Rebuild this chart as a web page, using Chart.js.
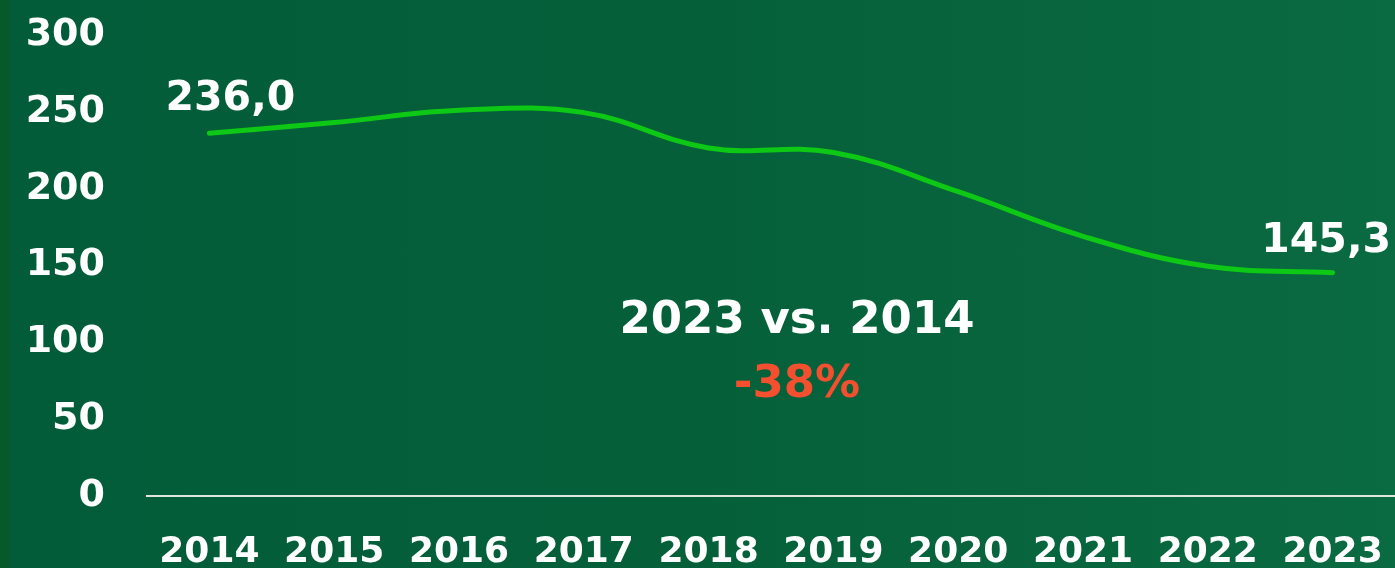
<!DOCTYPE html>
<html>
<head>
<meta charset="utf-8">
<script src="https://cdn.jsdelivr.net/npm/chart.js@4"></script>
<style>
  html, body { margin: 0; padding: 0; }
  body {
    width: 1395px; height: 568px; overflow: hidden;
    background: linear-gradient(90deg, #035c39 0%, #05603a 50%, #0a6a41 100%);
    position: relative;
  }
  .strip { position: absolute; left: 0; top: 0; width: 10px; height: 568px; background: #08592a; }
  #wrap { position: absolute; left: 0; top: 0; width: 1395px; height: 568px; }
</style>
</head>
<body>
<div class="strip"></div>
<div id="wrap"><canvas id="chart"></canvas></div>
<script>
// valores anuais
const years = ['2014', '2015', '2016', '2017', '2018', '2019', '2020', '2021', '2022', '2023'];
const values = [236.0, 243, 251, 249.5, 226.5, 223.5, 198, 169, 149.5, 145.3];
const yTicks = [0, 50, 100, 150, 200, 250, 300];
const firstLabel = '236,0';
const lastLabel = '145,3';
const noteTitle = '2023 vs. 2014';
const noteValue = '-38%';

const FONT = '"DejaVu Sans", sans-serif';

// rótulos do primeiro/último ponto e texto central
const labelsPlugin = {
    id: 'labelsPlugin',
    afterDatasetsDraw(chart) {
        const ctx = chart.ctx;
        const pts = chart.getDatasetMeta(0).data;
        const first = pts[0];
        const last = pts[pts.length - 1];
        ctx.save();
        ctx.fillStyle = '#ffffff';
        ctx.font = 'bold 41px ' + FONT;
        ctx.textBaseline = 'middle';
        ctx.textAlign = 'center';
        ctx.fillText(firstLabel, first.x + 21, first.y - 34);
        ctx.textAlign = 'right';
        ctx.fillText(lastLabel, 1391, last.y - 31);

        const cx = 797;
        ctx.textAlign = 'center';
        ctx.font = 'bold 45px ' + FONT;
        ctx.fillText(noteTitle, cx, chart.scales.y.getPixelForValue(114));
        ctx.fillStyle = '#f4502f';
        ctx.fillText(noteValue, cx, chart.scales.y.getPixelForValue(72));
        ctx.restore();
    }
};

new Chart(document.getElementById('chart'), {
    type: 'line',
    data: {
        labels: years,
        datasets: [{
            data: values,
            borderColor: '#0dc814',
            borderWidth: 5,
            borderCapStyle: 'round',
            pointRadius: 0,
            tension: 0.4,
            fill: false
        }]
    },
    options: {
        responsive: true,
        maintainAspectRatio: false,
        animation: false,
        layout: { padding: { top: 35, right: 0, left: 0, bottom: 0 } },
        plugins: { legend: { display: false }, tooltip: { enabled: false } },
        scales: {
            x: {
                offset: true,
                grid: { display: false, drawTicks: false },
                border: { display: true, color: '#dfe6df', width: 2 },
                ticks: {
                    color: '#ffffff',
                    font: { family: FONT, size: 36, weight: 'bold' },
                    padding: 35,
                    maxRotation: 0,
                    autoSkip: false
                },
                afterFit(scale) {
                    scale.height = 72;
                    scale.paddingLeft = 0;
                    scale.paddingRight = 0;
                }
            },
            y: {
                min: 0,
                max: 300,
                afterBuildTicks(scale) { scale.ticks = yTicks.map(v => ({ value: v })); },
                grid: { display: false, drawTicks: false },
                border: { display: false },
                ticks: {
                    color: '#ffffff',
                    font: { family: FONT, size: 38, weight: 'bold' },
                    padding: 42
                },
                afterFit(scale) {
                    scale.width = 147;
                    scale.paddingTop = 0;
                    scale.paddingBottom = 0;
                }
            }
        }
    },
    plugins: [labelsPlugin]
});
</script>
</body>
</html>
